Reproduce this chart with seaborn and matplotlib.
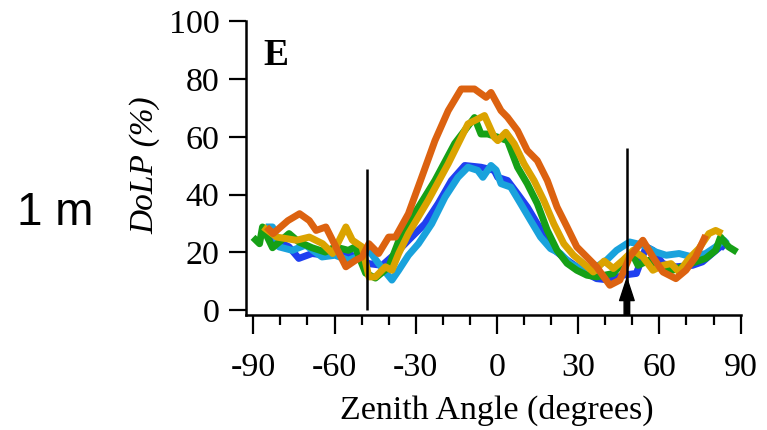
import numpy as np
import pandas as pd
import matplotlib
matplotlib.use("Agg")
import matplotlib.pyplot as plt
import seaborn as sns

# ---------------- data ----------------
blue_angle = [-84.2, -80.5, -76.8, -73.2, -68.3, -63.4, -56.1, -52.4, -47.3, -42.4,
              -37.5, -31.5, -26.6, -21.7, -16.8, -11.9, -5.9, -1.0, 0.3, 3.9,
              7.6, 11.2, 14.9, 18.6, 22.2, 25.9, 29.5, 33.2, 36.8, 41.7,
              46.6, 51.5, 55.1, 57.6, 61.3, 66.1, 72.2, 75.9, 79.5, 83.2, 84.4]
blue_dolp = [25.3, 23.6, 21.9, 17.9, 19.6, 19.0, 20.1, 18.4, 16.1, 15.5,
             19.6, 25.3, 29.9, 36.9, 44.9, 50.1, 49.5, 48.4, 46.0, 44.9,
             40.3, 35.7, 29.9, 24.2, 20.1, 17.3, 15.0, 12.7, 10.9, 10.4,
             12.1, 12.7, 21.9, 20.7, 16.1, 15.0, 15.5, 16.7, 19.6, 22.5, 21.4]

lightblue_angle = [-85.4, -82.9, -80.5, -75.6, -70.7, -64.6, -59.8, -54.9, -50.0, -47.3,
                   -43.7, -38.8, -36.3, -32.7, -29.0, -24.1, -19.2, -14.4, -10.7, -7.1,
                   -5.2, -2.2, -0.3, 1.5, 5.1, 8.8, 12.4, 16.1, 19.8, 23.4,
                   27.1, 32.0, 36.8, 40.5, 44.2, 49.0, 53.9, 58.8, 62.5, 67.3,
                   72.2, 77.1, 80.8, 83.8, 85.0]
lightblue_dolp = [28.8, 28.8, 21.9, 20.7, 22.5, 18.4, 19.0, 17.3, 19.0, 20.7,
                  16.1, 10.4, 13.8, 19.0, 23.0, 29.9, 39.1, 46.0, 49.5, 48.4,
                  46.0, 50.1, 48.5, 43.8, 42.6, 36.8, 31.1, 25.3, 21.3, 19.6,
                  16.1, 13.8, 15.0, 17.3, 20.7, 23.6, 22.5, 20.1, 19.0, 19.6,
                  18.4, 19.6, 21.9, 24.2, 23.0]

green_angle = [-90.1, -87.7, -86.6, -82.9, -76.8, -73.2, -68.3, -63.4, -59.8, -54.9,
               -52.4, -48.5, -44.9, -40.0, -35.2, -29.0, -22.9, -15.6, -8.3, -5.9,
               -3.4, 0.3, 3.9, 7.6, 11.2, 14.9, 18.6, 22.2, 25.9, 29.5,
               33.2, 36.8, 43.0, 46.6, 50.3, 52.1, 56.3, 60.0, 64.9, 69.8,
               73.4, 77.1, 80.8, 82.6, 85.6, 88.7]
green_dolp = [25.2, 23.0, 28.8, 21.6, 26.5, 23.6, 21.6, 20.1, 21.9, 20.7,
              21.9, 12.8, 11.1, 14.9, 26.6, 35.6, 44.9, 57.7, 66.7, 61.0,
              61.0, 59.9, 58.7, 49.5, 43.8, 36.9, 27.6, 20.7, 16.2, 13.8,
              12.1, 11.5, 12.7, 16.7, 19.0, 15.5, 17.3, 15.0, 13.8, 15.5,
              16.7, 17.9, 20.7, 25.3, 21.9, 20.1]

gold_angle = [-86.3, -81.4, -74.1, -69.3, -64.4, -60.7, -55.8, -53.4, -49.8, -47.3,
              -44.9, -41.2, -38.8, -36.3, -32.7, -25.4, -18.0, -10.7, -7.1, -4.6,
              -1.0, 0.3, 3.3, 6.4, 10.0, 13.7, 17.3, 21.0, 24.7, 28.3,
              32.0, 35.6, 39.6, 43.0, 46.6, 50.3, 53.9, 57.6, 61.3, 64.3,
              67.3, 71.0, 74.6, 78.3, 80.8, 83.2]
gold_dolp = [28.8, 25.3, 24.2, 25.3, 23.0, 19.6, 28.8, 24.2, 21.9, 11.5,
             11.5, 15.0, 13.8, 19.6, 26.5, 38.0, 50.7, 64.5, 66.2, 67.4,
             59.9, 58.7, 61.6, 57.6, 50.7, 44.9, 38.0, 29.9, 23.0, 19.0,
             16.1, 13.2, 17.0, 14.4, 17.3, 20.7, 18.4, 13.8, 15.5, 16.1,
             13.2, 17.9, 21.3, 26.5, 27.6, 26.5]

orange_angle = [-85.1, -82.7, -77.2, -72.9, -69.3, -66.8, -63.2, -59.5, -55.8, -52.2,
                -49.8, -47.3, -43.7, -40.0, -37.5, -32.7, -27.8, -22.9, -18.0, -13.2,
                -8.3, -4.0, -2.2, 1.5, 3.9, 7.6, 11.2, 14.9, 18.6, 22.2,
                25.9, 29.5, 33.2, 36.8, 41.7, 45.4, 49.0, 53.9, 57.6, 61.3,
                66.1, 69.8, 73.4, 77.1]
orange_dolp = [28.8, 26.5, 31.0, 33.4, 31.0, 27.6, 28.8, 21.9, 15.0, 17.3,
               18.4, 23.0, 19.6, 25.3, 25.3, 33.4, 46.0, 58.7, 69.1, 76.6,
               76.6, 73.7, 75.4, 69.1, 66.8, 62.2, 55.3, 51.8, 44.9, 35.7,
               28.8, 21.9, 18.4, 15.0, 8.6, 10.4, 18.4, 24.2, 18.4, 13.2,
               10.9, 13.8, 18.4, 25.9]

series_names = ["blue", "lightblue", "green", "gold", "orange"]
series_colors = ["#1f3ff0", "#19a2dc", "#16a016", "#dba300", "#dc6210"]

marker_angles = [-48.0, 48.0]
marker_tops = [49.0, 56.3]
arrow_angle = 48.0
arrow_tip = 11.0

x_ticks = [-90, -60, -30, 0, 30, 60, 90]
x_minor = [-80, -70, -50, -40, -20, -10, 10, 20, 40, 50, 70, 80]
y_ticks = [0, 20, 40, 60, 80, 100]

# ---------------- build table ----------------
angles = [blue_angle, lightblue_angle, green_angle, gold_angle, orange_angle]
values = [blue_dolp, lightblue_dolp, green_dolp, gold_dolp, orange_dolp]
frames = []
for name, a, v in zip(series_names, angles, values):
    frames.append(pd.DataFrame({"angle": a, "dolp": v, "series": name,
                                "order": np.arange(len(a))}))
df = pd.concat(frames, ignore_index=True)

# ---------------- plot ----------------
sns.set_theme(style="white")
plt.rcParams["font.family"] = ["Liberation Serif", "DejaVu Serif"]

fig = plt.figure(figsize=(7.67, 4.30), dpi=100)
ax = fig.add_axes([246 / 767, 1 - 315 / 430, 500 / 767, 295 / 430])

sns.lineplot(data=df, x="angle", y="dolp", hue="series", hue_order=series_names,
             palette=dict(zip(series_names, series_colors)), estimator=None,
             sort=False, legend=False, linewidth=5.0, ax=ax)
for ln in ax.get_lines():
    ln.set_linewidth(5.0)
    ln.set_solid_joinstyle("round")
    ln.set_solid_capstyle("butt")

ax.vlines(marker_angles, 0, marker_tops, colors="black", lw=1.8, zorder=5)
ax.annotate("", xy=(arrow_angle, arrow_tip), xytext=(arrow_angle, -1.8),
            arrowprops=dict(facecolor="black", edgecolor="black", width=4,
                            headwidth=10.5, headlength=16, shrink=0),
            annotation_clip=False, zorder=6)

ax.set_xlim(-92.7, 92)
ax.set_ylim(-1.7, 100.5)
for s in ["top", "right"]:
    ax.spines[s].set_visible(False)
for s in ["left", "bottom"]:
    ax.spines[s].set_color("black")
    ax.spines[s].set_linewidth(1.8)
ax.spines["bottom"].set_bounds(-92.7, 90)
ax.spines["left"].set_bounds(-1.7, 100)

ax.set_xticks(x_ticks)
ax.set_xticks(x_minor, minor=True)
ax.set_yticks(y_ticks)
ax.set_xticklabels([str(t) for t in x_ticks])
ax.set_yticklabels([str(t) for t in y_ticks])
ax.tick_params(axis="x", which="major", direction="out", length=14, width=1.6,
               labelsize=24.5, pad=13, colors="black", bottom=True)
ax.tick_params(axis="x", which="minor", direction="out", length=7.5, width=1.6,
               bottom=True, colors="black")
ax.tick_params(axis="y", which="major", direction="out", length=12, width=1.6,
               labelsize=24.5, pad=7, colors="black", left=True)

ax.set_xlabel("Zenith Angle (degrees)", fontsize=24.5, color="black")
ax.xaxis.set_label_coords(0.502, -0.27)
ax.set_ylabel("DoLP (%)", fontsize=24, fontstyle="italic", color="black")
ax.yaxis.set_label_coords(-0.172, 0.508)

ax.text(0.034, 0.94, "E", transform=ax.transAxes, fontsize=27, fontweight="bold",
        ha="left", va="top", color="black")
fig.text(17 / 767, 1 - 213 / 430, "1 m", fontsize=33, family="Liberation Sans",
         ha="left", va="center", color="black")

fig.savefig("out.png", dpi=100)
